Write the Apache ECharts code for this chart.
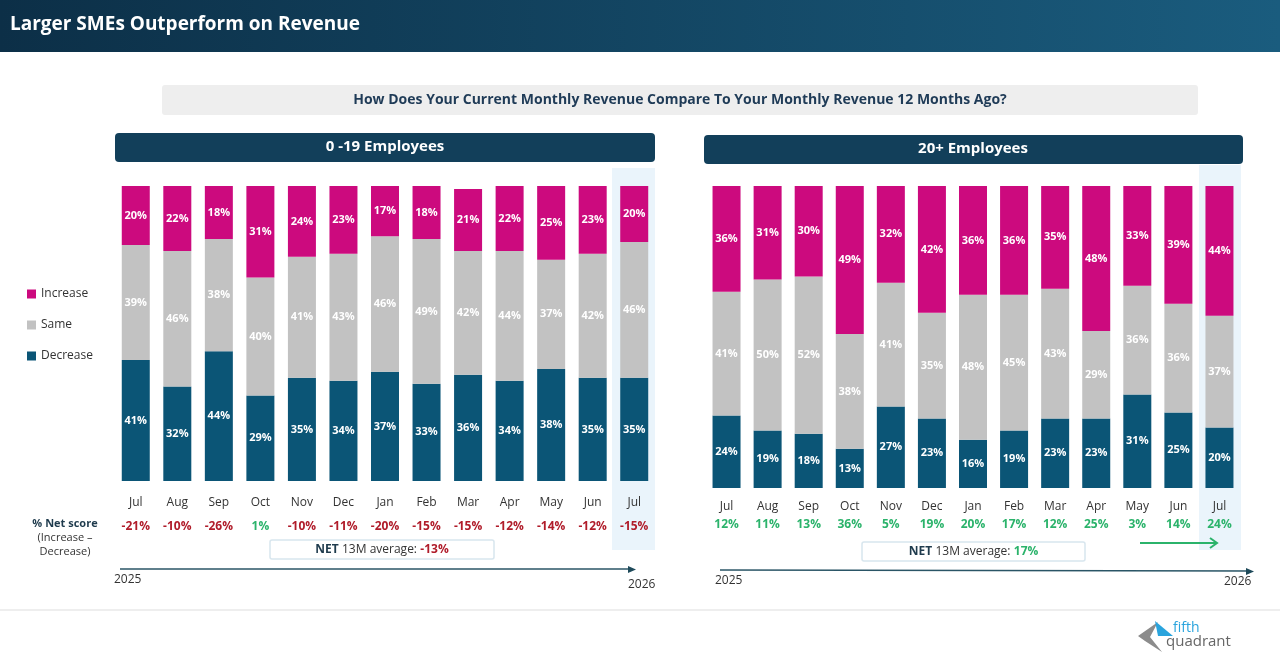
<!DOCTYPE html>
<html><head><meta charset="utf-8">
<script src="https://cdn.jsdelivr.net/npm/echarts@6/dist/echarts.min.js"></script>
<style>html,body{margin:0;padding:0;background:#fff}#c{width:1280px;height:661px}</style>
</head><body><div id="c"></div>
<script>
const months = ['Jul','Aug','Sep','Oct','Nov','Dec','Jan','Feb','Mar','Apr','May','Jun','Jul'];
const smallIncrease = [20,22,18,31,24,23,17,18,21,22,25,23,20];
const smallSame     = [39,46,38,40,41,43,46,49,42,44,37,42,46];
const smallDecrease = [41,32,44,29,35,34,37,33,36,34,38,35,35];
const smallNet      = [-21,-10,-26,1,-10,-11,-20,-15,-15,-12,-14,-12,-15];
const smallNetAvg = -13;
const largeIncrease = [36,31,30,49,32,42,36,36,35,48,33,39,44];
const largeSame     = [41,50,52,38,41,35,48,45,43,29,36,36,37];
const largeDecrease = [24,19,18,13,27,23,16,19,23,23,31,25,20];
const largeNet      = [12,11,13,36,5,19,20,17,12,25,3,14,24];
const largeNetAvg = 17;

const C_INC='#cc0a7e', C_SAME='#c2c2c2', C_DEC='#0b5576', NAVY='#123f5a';
const RED='#b01c2a', GREEN='#2bb36b';
const FONT='"Open Sans", "Noto Sans", sans-serif';

function xAxis(idx, net, lh){
  return {type:'category', gridIndex:idx, data:months.map((m,i)=>m+'|'+net[i]),
    axisLine:{show:false}, axisTick:{show:false},
    axisLabel:{interval:0, margin:10, fontFamily:FONT,
      formatter:v=>{const [m,n]=v.split('|');const k=+n;return '{m|'+m+'}\n{'+(k>0?'g':'r')+'|'+k+'%}';},
      rich:{m:{fontSize:12,color:'#333',lineHeight:lh,fontFamily:FONT},
            r:{fontSize:12,fontWeight:'bold',color:RED,lineHeight:lh,fontFamily:FONT},
            g:{fontSize:12,fontWeight:'bold',color:GREEN,lineHeight:lh,fontFamily:FONT}}}};
}
function yAxis(idx){return {type:'value',gridIndex:idx,min:0,max:100,show:false};}
function ser(name,data,color,idx){
  return {name,type:'bar',stack:'s'+idx,xAxisIndex:idx,yAxisIndex:idx,data,barWidth:28,
    itemStyle:{color},
    label:{show:true,formatter:'{c}%',color:'#fff',fontWeight:'bold',fontSize:11,fontFamily:FONT}};
}
const chart=echarts.init(document.getElementById('c'));
const avgText=(x,y,w,v)=>[
  {type:'rect',shape:{x:x,y:y,width:w,height:19,r:2},style:{fill:'#fff',stroke:'#d8e6ee',lineWidth:1.5}},
  {type:'text',x:x+w/2,y:y+10,style:{text:'{b|NET} {n|13M average:} {'+(v>0?'g':'r')+'|'+v+'%}',align:'center',verticalAlign:'middle',
    rich:{b:{fontWeight:'bold',fontSize:12,fill:'#1f3b4d',fontFamily:FONT},n:{fontSize:12,fill:'#333',fontFamily:FONT},
    r:{fontWeight:'bold',fontSize:12,fill:RED,fontFamily:FONT},g:{fontWeight:'bold',fontSize:12,fill:GREEN,fontFamily:FONT}}}}];
chart.setOption({
  animation:false,
  grid:[{left:115,right:625,top:186,bottom:180},{left:706,right:40,top:186,bottom:173}],
  xAxis:[xAxis(0,smallNet,24),xAxis(1,largeNet,18)],
  yAxis:[yAxis(0),yAxis(1)],
  legend:{orient:'vertical',left:22,top:283,itemGap:19,itemWidth:9,itemHeight:9,icon:'rect',
    data:['Increase','Same','Decrease'],textStyle:{fontSize:12,color:'#333',fontFamily:FONT}},
  graphic:[
    {type:'rect',z:-10,shape:{x:612,y:168,width:43,height:382},style:{fill:'#eaf4fb'}},
    {type:'rect',z:-10,shape:{x:1199,y:165,width:42,height:385},style:{fill:'#eaf4fb'}},
    {type:'rect',shape:{x:0,y:0,width:1280,height:52},style:{fill:new echarts.graphic.LinearGradient(0,0,1,0,[{offset:0,color:'#0c2f47'},{offset:1,color:'#1a5c7e'}])}},
    {type:'text',x:10,y:25,style:{text:'Larger SMEs Outperform on Revenue',fill:'#fff',fontSize:19,fontWeight:'bold',fontFamily:FONT,verticalAlign:'middle'}},
    {type:'rect',shape:{x:162,y:85,width:1036,height:30,r:3},style:{fill:'#eeeeee'}},
    {type:'text',x:680,y:100,style:{text:'How Does Your Current Monthly Revenue Compare To Your Monthly Revenue 12 Months Ago?',fill:'#1f3b57',fontSize:14,fontWeight:'bold',fontFamily:FONT,align:'center',verticalAlign:'middle'}},
    {type:'rect',shape:{x:115,y:133,width:540,height:29,r:4},style:{fill:NAVY}},
    {type:'text',x:385,y:147,style:{text:'0 -19 Employees',fill:'#fff',fontSize:15,fontWeight:'bold',fontFamily:FONT,align:'center',verticalAlign:'middle'}},
    {type:'rect',shape:{x:704,y:135,width:539,height:29,r:4},style:{fill:NAVY}},
    {type:'text',x:973,y:149,style:{text:'20+ Employees',fill:'#fff',fontSize:15,fontWeight:'bold',fontFamily:FONT,align:'center',verticalAlign:'middle'}},
    {type:'text',x:65,y:517,style:{text:'{b|% Net score}\n(Increase –\nDecrease)',align:'center',fontSize:11,lineHeight:14,fill:'#333',fontFamily:FONT,
      rich:{b:{fontWeight:'bold',fontSize:11,fill:'#1f3b4d',fontFamily:FONT,lineHeight:14}}}},
    ...avgText(270,540,224,smallNetAvg),
    ...avgText(862,542,223,largeNetAvg),
    {type:'line',shape:{x1:120,y1:569,x2:630,y2:569},style:{stroke:'#2a5566',lineWidth:1.5}},
    {type:'polygon',shape:{points:[[636,569.5],[628,566],[628,573]]},style:{fill:'#1e4a5a'}},
    {type:'text',x:114,y:574,style:{text:'2025',fontSize:12,fill:'#333',fontFamily:FONT}},
    {type:'text',x:628,y:585,style:{text:'2026',fontSize:12,fill:'#333',fontFamily:FONT,align:'left',verticalAlign:'middle'}},
    {type:'line',shape:{x1:720,y1:570,x2:1250,y2:571},style:{stroke:'#2a5566',lineWidth:1.5}},
    {type:'polygon',shape:{points:[[1254,571.5],[1246,568],[1246,575]]},style:{fill:'#1e4a5a'}},
    {type:'text',x:715,y:575,style:{text:'2025',fontSize:12,fill:'#333',fontFamily:FONT}},
    {type:'text',x:1224,y:576,style:{text:'2026',fontSize:12,fill:'#333',fontFamily:FONT}},
    {type:'line',shape:{x1:1140,y1:543,x2:1216,y2:543},style:{stroke:GREEN,lineWidth:2}},
    {type:'polyline',shape:{points:[[1210,538],[1217,543],[1210,548]]},style:{stroke:GREEN,lineWidth:2,fill:null}},
    {type:'line',shape:{x1:0,y1:610,x2:1280,y2:610},style:{stroke:'#dddddd',lineWidth:1}},
    {type:'polygon',shape:{points:[[1138,636],[1158,622],[1150,637],[1162,652],[1145,641]]},style:{fill:'#8c8c8c'}},
    {type:'polygon',shape:{points:[[1155,621],[1173,636],[1158,636]]},style:{fill:'#2aa4dd'}},
    {type:'text',x:1173,y:628,style:{text:'fifth',fontSize:14,fill:'#2aa4dd',fontFamily:FONT,verticalAlign:'middle'}},
    {type:'text',x:1166,y:642,style:{text:'quadrant',fontSize:15,fill:'#666',fontFamily:FONT,verticalAlign:'middle'}}
  ],
  series:[
    ser('Decrease',smallDecrease,C_DEC,0),ser('Same',smallSame,C_SAME,0),ser('Increase',smallIncrease,C_INC,0),
    ser('Decrease',largeDecrease,C_DEC,1),ser('Same',largeSame,C_SAME,1),ser('Increase',largeIncrease,C_INC,1)
  ]
});
</script></body></html>
